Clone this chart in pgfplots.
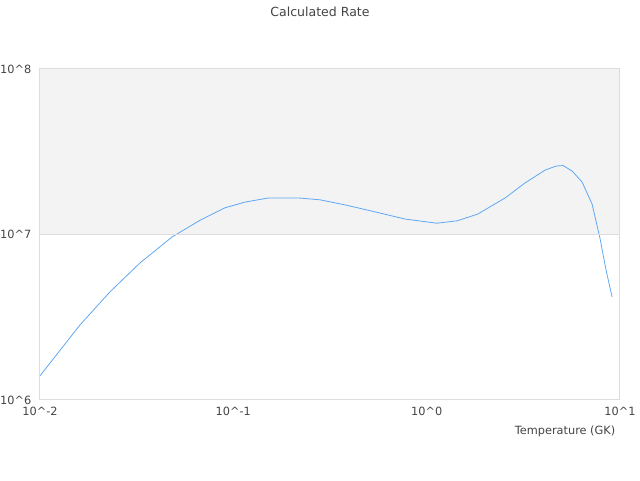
\documentclass[border=0pt]{standalone}
\usepackage{fontspec}
\setmainfont{DejaVu Sans}
\usepackage{pgfplots}
\pgfplotsset{compat=1.18}
\definecolor{linec}{RGB}{95,168,245}
\definecolor{bandc}{RGB}{243,243,243}
\definecolor{gridc}{RGB}{221,221,221}
\definecolor{txtc}{RGB}{68,68,68}
\newcommand{\tp}[1]{10\symbol{94}#1}
\begin{document}
\begin{tikzpicture}
\path[use as bounding box] (0pt,0pt) rectangle (480pt,360pt);
\begin{axis}[
  at={(30pt,60pt)}, anchor=south west,
  scale only axis, width=435pt, height=248.25pt,
  xmode=log, ymode=log,
  xmin=0.01, xmax=10, ymin=1e6, ymax=1e8,
  axis line style={gridc, line width=0.75pt},
  ymajorgrids, major grid style={gridc, line width=0.75pt},
  tick style={draw=none}, major tick length=0, minor tick length=0,
  minor xtick={}, minor ytick={},
  xtick={0.01,0.1,1,10},
  xticklabels={\tp{-2},\tp{-1},\tp{0},\tp{1}},
  ytick={1e6,1e7,1e8},
  yticklabels={\tp{6},\tp{7},\tp{8}},
  ticklabel style={font=\fontsize{8.5}{10}\selectfont, text=txtc},
  xticklabel style={yshift=-2pt},
  yticklabel style={xshift=-3pt},
  axis on top,
]
\fill[bandc] (axis cs:0.01,1e7) rectangle (axis cs:10,1e8);
\addplot[linec, line width=0.6pt, mark=none] coordinates {
(0.0100,1.40e6)
(0.0161,2.84e6)
(0.0230,4.50e6)
(0.0329,6.73e6)
(0.0482,9.66e6)
(0.0673,1.22e7)
(0.0906,1.45e7)
(0.115,1.57e7)
(0.151,1.66e7)
(0.221,1.66e7)
(0.281,1.62e7)
(0.378,1.51e7)
(0.541,1.37e7)
(0.773,1.24e7)
(1.13,1.17e7)
(1.44,1.21e7)
(1.84,1.33e7)
(2.54,1.66e7)
(3.23,2.05e7)
(4.10,2.45e7)
(4.67,2.59e7)
(5.07,2.61e7)
(5.65,2.42e7)
(6.36,2.08e7)
(7.17,1.53e7)
(7.88,9.5e6)
(8.47,6.1e6)
(9.10,4.19e6)
};
\end{axis}
\node[font=\fontsize{9.4}{11}\selectfont, text=txtc] at (240pt,351pt) {Calculated Rate};
\node[font=\fontsize{8.5}{10}\selectfont, text=txtc, anchor=east] at (465pt,36.75pt) {Temperature (GK)};
\end{tikzpicture}
\end{document}
